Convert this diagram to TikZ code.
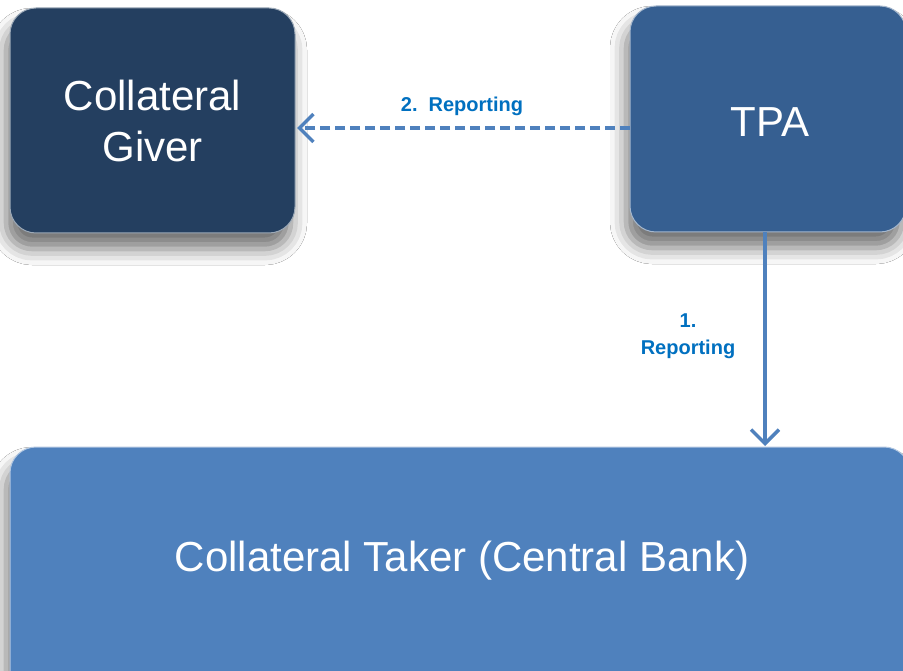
\documentclass[tikz,border=0pt]{standalone}
\usepackage{fontspec}
\setmainfont{Liberation Sans}
\usetikzlibrary{arrows.meta,shadows.blur}
\definecolor{cgiver}{HTML}{243F60}
\definecolor{ctpa}{HTML}{365F91}
\definecolor{ctaker}{HTML}{4F81BD}
\definecolor{arrowc}{HTML}{4F81BD}
\definecolor{labelc}{HTML}{0070C0}
\tikzset{
  boxstyle/.style={rounded corners=26pt, draw=white!55!#1, line width=1pt, fill=#1,
    blur shadow={shadow xshift=-4pt, shadow yshift=-16pt, shadow blur radius=16pt, shadow opacity=55},
    text=white, font=\fontsize{42}{51}\selectfont, align=center, inner sep=0pt},
  conn/.style={draw=arrowc, line width=3.5pt, -{Straight Barb[length=14pt,width=28pt,line width=3.5pt]}},
  lbl/.style={text=labelc, font=\fontsize{20}{27}\selectfont\bfseries, align=center, inner sep=0pt}
}
\begin{document}
\begin{tikzpicture}[x=1pt,y=1pt]
\useasboundingbox (0,0) rectangle (903,-671);
\clip (0,0) rectangle (903,-671);
\fill[white] (0,0) rectangle (903,-671);
\node[boxstyle=cgiver, minimum width=285pt, minimum height=225pt] (giver) at (152.5,-120.5) {Collateral\\Giver};
\node[boxstyle=ctpa, minimum width=276pt, minimum height=226pt] (tpa) at (768,-119) {};
\node[text=white, font=\fontsize{42}{51}\selectfont] (tpat) at (770,-122) {TPA};
\node[boxstyle=ctaker, minimum width=900pt, minimum height=260pt] (taker) at (460,-577) {};
\node[text=white, font=\fontsize{42}{51}\selectfont] (takert) at (462,-561) {Collateral Taker (Central Bank)};
\coordinate (tpaL) at (630,-128);
\coordinate (giverR) at (297,-128);
\coordinate (tpaB) at (765,-232);
\coordinate (takerT) at (765,-446);
\draw[conn, dash pattern=on 10pt off 5pt] (tpaL) -- (giverR);
\draw[conn] (tpaB) -- (takerT);
\node[lbl] (l2) at (462,-106) {2.\ \ Reporting};
\node[lbl] (l1) at (688,-336) {1.\\Reporting};
\end{tikzpicture}
\end{document}
